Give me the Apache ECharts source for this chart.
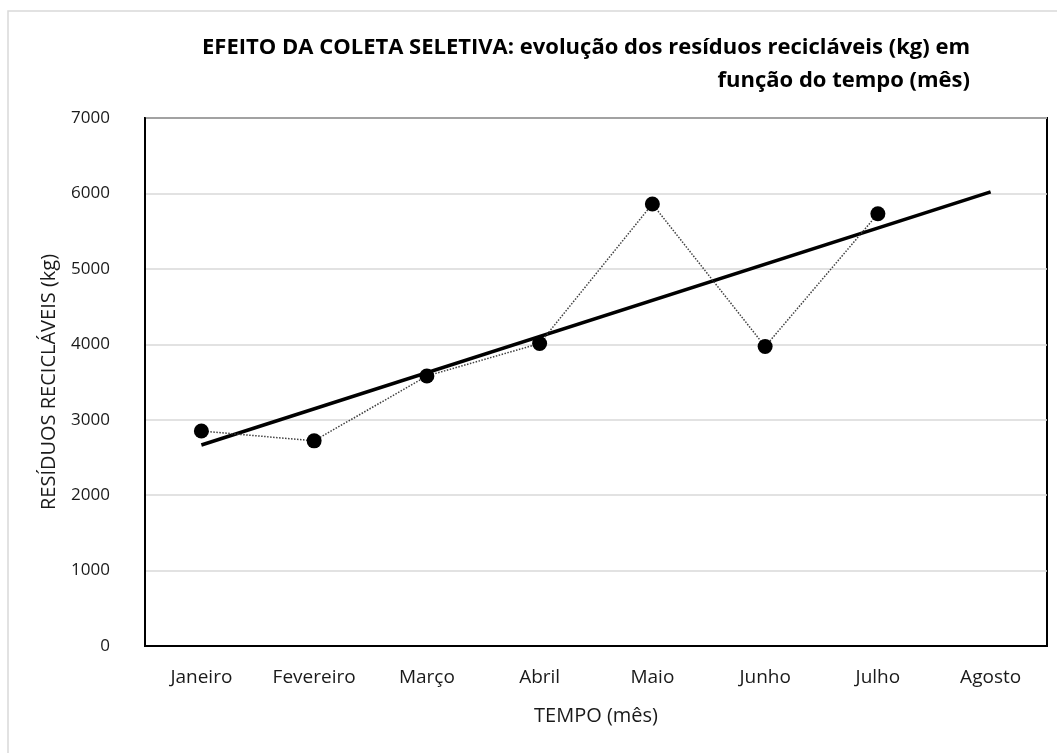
<!DOCTYPE html>
<html>
<head>
<meta charset="utf-8">
<script src="https://cdn.jsdelivr.net/npm/echarts@6/dist/echarts.min.js"></script>
<style>
html,body{margin:0;padding:0;background:#fff;}
#chart{width:1057px;height:753px;}
</style>
</head>
<body>
<div id="chart"></div>
<script>
const categories = ['Janeiro', 'Fevereiro', 'Março', 'Abril', 'Maio', 'Junho', 'Julho', 'Agosto'];
const residuos = [2850, 2720, 3580, 4010, 5860, 3970, 5730, '-'];
const trendLine = [2665, '-', '-', '-', '-', '-', '-', 6020];
const titleLines = ['EFEITO DA COLETA SELETIVA: evolução dos resíduos recicláveis (kg) em', 'função do tempo (mês)'];
const yAxisName = 'RESÍDUOS RECICLÁVEIS (kg)';
const xAxisName = 'TEMPO (mês)';

const FONT = '"Open Sans", sans-serif';
const chart = echarts.init(document.getElementById('chart'), null, {renderer: 'canvas'});
chart.setOption({
  backgroundColor: '#fff',
  animation: false,
  graphic: [
    {type: 'rect', shape: {x: 8, y: 11, width: 1070, height: 760}, style: {fill: 'none', stroke: '#d9d9d9', lineWidth: 1.5}, silent: true},
    {type: 'text', x: 970, y: 48, style: {text: titleLines[0], font: 'bold 22px ' + FONT, fill: '#000', align: 'right', verticalAlign: 'middle'}},
    {type: 'text', x: 970, y: 81, style: {text: titleLines[1], font: 'bold 22px ' + FONT, fill: '#000', align: 'right', verticalAlign: 'middle'}}
  ],
  grid: {left: 145, right: 10, top: 118, bottom: 107, show: true, borderColor: '#000', borderWidth: 2, containLabel: false},
  xAxis: {
    type: 'category',
    data: categories,
    boundaryGap: true,
    name: xAxisName,
    nameLocation: 'middle',
    nameGap: 60,
    nameTextStyle: {fontFamily: FONT, fontSize: 20, color: '#1a1a1a'},
    axisLine: {show: true, lineStyle: {color: '#000', width: 2}},
    axisTick: {show: false},
    axisLabel: {fontFamily: FONT, fontSize: 19, color: '#1a1a1a', margin: 22, interval: 0},
    splitLine: {show: false}
  },
  yAxis: {
    type: 'value',
    min: 0,
    max: 7000,
    interval: 1000,
    name: yAxisName,
    nameLocation: 'middle',
    nameGap: 86,
    nameRotate: 90,
    nameTextStyle: {fontFamily: FONT, fontSize: 20, color: '#1a1a1a'},
    axisLine: {show: true, lineStyle: {color: '#000', width: 2}},
    axisTick: {show: false},
    axisLabel: {fontFamily: FONT, fontSize: 17, color: '#1a1a1a', margin: 35, formatter: function (v) { return String(v); }},
    splitLine: {show: true, lineStyle: {color: '#d9d9d9', width: 1.5}}
  },
  series: [
    {
      type: 'line',
      data: trendLine,
      connectNulls: true,
      symbol: 'none',
      lineStyle: {color: '#000', width: 3.5},
      z: 2
    },
    {
      type: 'line',
      data: residuos,
      symbol: 'circle',
      symbolSize: 15,
      itemStyle: {color: '#000'},
      lineStyle: {color: '#404040', width: 1.5, type: 'dotted'},
      z: 3
    }
  ]
});
</script>
</body>
</html>
